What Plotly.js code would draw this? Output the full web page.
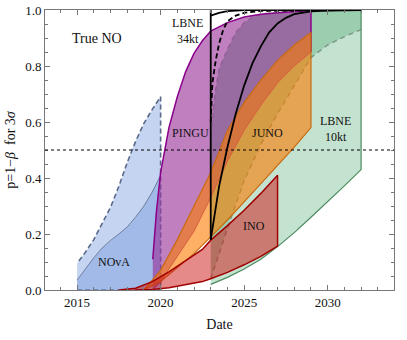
<!DOCTYPE html>
<html>
<head>
<meta charset="utf-8">
<script src="https://cdn.plot.ly/plotly-3.0.1.min.js"></script>
<style>
  body { margin: 0; background: #fff; }
  #plot { width: 407px; height: 340px; }
</style>
</head>
<body>
<div id="plot"></div>
<script>
// NOvA: upper (dashed) and median (solid), lower bound is 0
var novaX = [2015, 2015.5, 2016, 2016.5, 2017, 2017.5, 2018, 2018.5, 2019, 2019.5, 2020];
var novaUpper = [0.095, 0.135, 0.18, 0.235, 0.295, 0.37, 0.455, 0.53, 0.595, 0.645, 0.69];
var novaMedian = [0.035, 0.075, 0.115, 0.15, 0.177, 0.2, 0.225, 0.26, 0.3, 0.35, 0.41];

// PINGU
var pinguUpX = [2019.53, 2019.75, 2020, 2020.25, 2020.5, 2021, 2021.5, 2022, 2022.5, 2023, 2024, 2025, 2026, 2027, 2028, 2029];
var pinguUpper = [0.11, 0.28, 0.42, 0.5, 0.58, 0.69, 0.78, 0.845, 0.89, 0.925, 0.955, 0.975, 0.985, 0.99, 0.995, 0.998];
var pinguLoX = [2019.53, 2020, 2021, 2022, 2023, 2024, 2025, 2026, 2027, 2028, 2029];
var pinguLower = [0, 0.03, 0.12, 0.21, 0.33, 0.46, 0.57, 0.66, 0.74, 0.80, 0.85];

// JUNO
var junoX = [2019, 2020, 2021, 2022, 2023, 2024, 2025, 2026, 2027, 2028, 2029];
var junoUpper = [0, 0.07, 0.18, 0.30, 0.42, 0.57, 0.67, 0.75, 0.82, 0.875, 0.92];
var junoLower = [0, 0.03, 0.08, 0.13, 0.19, 0.25, 0.315, 0.38, 0.445, 0.51, 0.58];

// INO
var inoUpX = [2017.5, 2018.5, 2019.5, 2020.5, 2021.5, 2022.5, 2023, 2024, 2025, 2026, 2027];
var inoUpper = [0, 0.006, 0.03, 0.065, 0.105, 0.145, 0.178, 0.23, 0.285, 0.345, 0.41];
var inoLoX = [2018.5, 2019.5, 2020.5, 2021.5, 2022.5, 2023, 2024, 2025, 2026, 2027];
var inoLower = [0, 0.002, 0.008, 0.018, 0.03, 0.04, 0.063, 0.09, 0.12, 0.157];

// LBNE 10kt
var l10LoX = [2023, 2024, 2025, 2026, 2027, 2028, 2029, 2030, 2031, 2032];
var l10Lower = [0.02, 0.045, 0.075, 0.11, 0.155, 0.205, 0.26, 0.315, 0.372, 0.43];
var l10MedX = [2023, 2023.5, 2024, 2025, 2026, 2027, 2028, 2029, 2030, 2031, 2032];
var l10Median = [0.04, 0.13, 0.22, 0.39, 0.52, 0.63, 0.73, 0.83, 0.875, 0.905, 0.93];
var l10UpX = [2023, 2023.25, 2023.5, 2024, 2024.5, 2025, 2025.5, 2026, 2027, 2028, 2029, 2032];
var l10Upper = [0.55, 0.7, 0.79, 0.86, 0.92, 0.955, 0.975, 0.985, 0.993, 0.997, 1.0, 1.0];

// LBNE 34kt (black lines)
var l34LoX = [2023, 2023.25, 2023.5, 2023.75, 2024, 2024.5, 2025, 2025.5, 2026, 2026.5, 2027, 2027.5, 2028, 2029, 2030, 2032];
var l34Lower = [0.18, 0.28, 0.37, 0.44, 0.51, 0.63, 0.73, 0.81, 0.87, 0.92, 0.952, 0.972, 0.985, 0.995, 0.998, 1.0];
var l34MedX = [2023, 2023.1, 2023.3, 2023.5, 2023.75, 2024, 2024.5, 2025, 2026, 2032];
var l34Median = [0.6, 0.74, 0.82, 0.88, 0.93, 0.96, 0.98, 0.99, 0.997, 1.0];
var l34UpX = [2023, 2023.5, 2024, 2025, 2032];
var l34Upper = [0.98, 0.99, 0.996, 1.0, 1.0];
var l34EdgeX = [2023, 2023];
var l34EdgeY = [0.18, 1.0];

var yTicks = [0, 0.2, 0.4, 0.6, 0.8, 1.0];
var xTicks = [2015, 2020, 2025, 2030];

function rev(a) { return a.slice().reverse(); }
function zeros(a) { return a.map(function() { return 0; }); }

// closed polygon between a lower and an upper curve
function band(xl, yl, xu, yu, fillcolor, line) {
    return {
        x: xl.concat(rev(xu)), y: yl.concat(rev(yu)),
        mode: 'lines', fill: 'toself', fillcolor: fillcolor,
        line: line || {width: 0}, hoverinfo: 'skip'
    };
}
function curve(x, y, color, width, dash) {
    return {x: x, y: y, mode: 'lines', hoverinfo: 'skip',
        line: {color: color, width: width, dash: dash || 'solid'}};
}

var data = [
    // LBNE 10kt
    band(l10LoX, l10Lower, l10UpX, l10Upper, 'rgba(60,160,100,0.3)'),
    band(l10MedX, l10Median, l10UpX, l10Upper, 'rgba(60,160,100,0.3)'),
    curve(l10LoX.concat([2032]), l10Lower.concat([l10Upper[l10Upper.length - 1]]), '#4b8b5f', 1.2),
    curve(l10MedX, l10Median, 'rgba(110,135,120,0.8)', 1.5, '5px,4px'),
    curve(l10UpX, l10Upper, 'rgba(110,135,120,0.6)', 1.5, '5px,4px'),
    // NOvA
    band(novaX, zeros(novaX), novaX, novaUpper, 'rgba(110,148,218,0.4)',
        {color: '#5a6a8a', width: 1.6, dash: '5px,3px'}),
    band(novaX, zeros(novaX), novaX, novaMedian, 'rgba(110,148,218,0.4)'),
    curve(novaX, novaMedian, '#6f7f9f', 1),
    // PINGU
    band(pinguLoX, pinguLower, pinguUpX, pinguUpper, 'rgba(150,43,150,0.6)'),
    curve(pinguLoX, pinguLower, '#a0309a', 1),
    curve(pinguUpX.concat([2029]), pinguUpper.concat([pinguLower[pinguLower.length - 1]]), '#8b008b', 1.5),
    // JUNO
    band(junoX, junoLower, junoX, junoUpper, 'rgba(252,123,0,0.6)',
        {color: '#c86a10', width: 1.2}),
    // INO
    band(inoLoX, inoLower, inoUpX, inoUpper, 'rgba(205,20,20,0.5)',
        {color: '#a00000', width: 1.5}),
    // LBNE 34kt
    curve(l34EdgeX, l34EdgeY, '#000', 1.8),
    curve(l34LoX, l34Lower, '#000', 1.8),
    curve(l34MedX, l34Median, '#000', 1.8, '5px,3px'),
    curve(l34UpX, l34Upper, '#000', 1.8)
];

var serif = 'Liberation Serif, Times New Roman, serif';
function label(x, y, text, size) {
    return {x: x, y: y, text: text, showarrow: false,
        font: {family: serif, size: size || 12, color: '#111'}};
}

var axisCommon = {
    showline: true, linecolor: '#777', linewidth: 1, mirror: 'ticks',
    ticks: 'inside', ticklen: 5, tickcolor: '#777',
    showgrid: false, zeroline: false,
    tickfont: {family: serif, size: 13, color: '#111'}
};

var layout = {
    width: 407, height: 340,
    margin: {l: 45, r: 13, t: 10, b: 50},
    paper_bgcolor: '#fff', plot_bgcolor: '#fff',
    showlegend: false,
    xaxis: Object.assign({}, axisCommon, {
        range: [2013.08, 2033.97], tickvals: xTicks,
        minor: {ticks: 'inside', ticklen: 3, dtick: 1, tickcolor: '#777'},
        title: {text: 'Date', font: {family: serif, size: 14, color: '#111'}, standoff: 10}
    }),
    yaxis: Object.assign({}, axisCommon, {
        range: [0, 1], tickvals: yTicks, tickformat: '.1f',
        minor: {ticks: 'inside', ticklen: 3, dtick: 0.05, tickcolor: '#777'},
        title: {text: 'p=1\u2212<i>\u03b2</i>  for 3<i>\u03c3</i>', font: {family: serif, size: 14, color: '#111'}, standoff: 6}
    }),
    shapes: [{type: 'line', xref: 'paper', x0: 0, x1: 1, yref: 'y', y0: 0.5, y1: 0.5,
        line: {color: '#000', width: 1, dash: 'dot'}}],
    annotations: [
        label(2016.2, 0.9, 'True NO', 14),
        label(2021.6, 0.925, 'LBNE<br>34kt'),
        label(2021.8, 0.56, 'PINGU'),
        label(2026.4, 0.56, 'JUNO'),
        label(2030.45, 0.575, 'LBNE<br>10kt'),
        label(2017.2, 0.1, 'NOvA'),
        label(2025.6, 0.23, 'INO')
    ]
};

Plotly.newPlot('plot', data, layout, {staticPlot: true});
</script>
</body>
</html>
